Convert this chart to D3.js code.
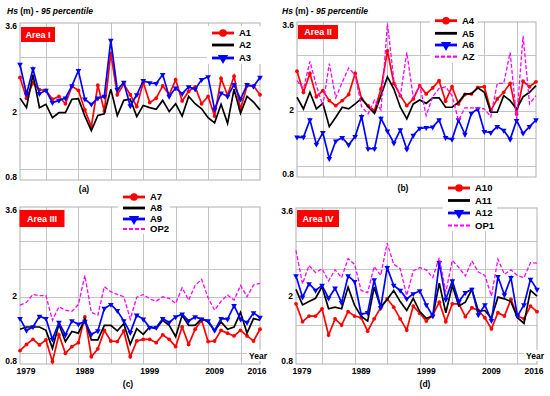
<!DOCTYPE html>
<html>
<head>
<meta charset="utf-8">
<script src="https://cdn.jsdelivr.net/npm/d3@7"></script>
<style>
  body { margin: 0; background: #fff; }
  svg { font-family: Arial, "Liberation Sans", sans-serif; }
</style>
</head>
<body>
<div id="chart"></div>
<script>
// years 1979 - 2016
const years = d3.range(1979, 2017);
const yTicks = [0.8, 2, 3.6];
const yGrid = [1, 1.5, 2, 2.5, 3];
const xGrid = [1983, 1988, 1993, 1998, 2003, 2008, 2013];
const xLabels = [1979, 1989, 1999, 2009, 2016];

// Area I
const A1 = [2.63, 2.26, 2.53, 2.41, 2.40, 2.24, 2.29, 2.16, 2.47, 2.40, 2.05, 1.75, 2.49, 2.03, 3.06, 2.32, 2.51, 2.32, 2.11, 2.54, 2.18, 2.26, 2.48, 2.32, 2.59, 2.21, 2.38, 2.46, 2.16, 2.29, 1.94, 2.61, 2.31, 2.65, 2.06, 2.48, 2.48, 2.32];
const A2 = [2.26, 2.09, 2.68, 2.09, 2.15, 1.91, 2.00, 2.00, 2.24, 2.25, 1.94, 1.68, 1.95, 1.98, 2.42, 1.95, 2.22, 2.24, 1.93, 2.13, 2.09, 2.06, 2.22, 2.02, 2.16, 1.94, 2.29, 2.16, 2.07, 1.91, 1.82, 2.15, 1.81, 2.42, 1.99, 2.29, 2.19, 2.05];
const A3 = [2.86, 2.33, 2.78, 2.34, 2.40, 2.18, 2.22, 2.26, 2.48, 2.75, 2.24, 2.15, 2.26, 2.29, 3.29, 2.41, 2.54, 2.12, 2.32, 2.57, 2.53, 2.52, 2.68, 2.29, 2.44, 2.34, 2.46, 2.42, 2.59, 2.64, 2.06, 2.35, 2.29, 2.50, 2.24, 2.50, 2.47, 2.63];
// Area II
const A4 = [2.71, 2.33, 2.67, 2.25, 2.36, 2.18, 2.09, 2.18, 2.29, 2.67, 2.21, 2.09, 2.00, 2.39, 3.08, 2.49, 2.27, 2.09, 2.21, 2.45, 2.30, 2.41, 2.54, 2.17, 2.43, 2.12, 2.29, 2.30, 2.42, 2.43, 2.00, 2.21, 2.33, 2.49, 1.94, 2.53, 2.43, 2.52];
const A5 = [2.24, 2.03, 2.33, 2.03, 2.13, 1.71, 1.88, 2.06, 2.03, 2.12, 2.22, 2.07, 1.95, 2.27, 2.61, 2.39, 2.06, 1.85, 2.12, 2.19, 2.13, 2.23, 2.23, 2.06, 2.06, 2.15, 2.30, 2.30, 2.41, 2.33, 1.97, 1.97, 2.27, 2.18, 2.03, 2.25, 2.33, 2.45];
const A6 = [1.52, 1.52, 1.83, 1.39, 1.60, 1.13, 1.45, 1.51, 1.38, 1.53, 1.89, 1.31, 1.31, 1.86, 1.63, 1.41, 1.65, 1.30, 1.55, 1.68, 1.69, 1.70, 1.83, 1.51, 1.48, 1.83, 1.57, 1.95, 2.03, 1.62, 1.60, 1.71, 1.64, 1.48, 1.82, 1.59, 1.71, 1.83];
const AZ = [2.54, 2.39, 2.89, 2.45, 2.09, 2.85, 2.23, 2.51, 2.77, 2.64, 2.07, 1.94, 2.19, 2.01, 3.57, 2.55, 2.27, 3.05, 2.24, 2.45, 1.91, 2.25, 2.40, 2.43, 2.27, 1.82, 2.05, 2.05, 2.05, 2.03, 1.89, 2.49, 2.49, 3.05, 1.85, 3.35, 2.12, 2.27];
// Area III
const A7 = [1.04, 1.15, 1.24, 1.14, 1.23, 0.84, 1.32, 0.99, 1.11, 1.18, 1.64, 0.93, 1.07, 1.40, 1.21, 1.20, 1.39, 0.93, 1.21, 1.24, 1.24, 1.18, 1.32, 1.24, 1.11, 1.46, 1.15, 1.42, 1.58, 1.20, 1.21, 1.40, 1.35, 1.30, 1.40, 1.30, 1.21, 1.42];
const A8 = [1.42, 1.46, 1.46, 1.46, 1.40, 1.08, 1.51, 1.20, 1.38, 1.35, 1.60, 1.23, 1.23, 1.49, 1.49, 1.39, 1.52, 1.15, 1.43, 1.33, 1.46, 1.43, 1.58, 1.49, 1.29, 1.67, 1.49, 1.49, 1.61, 1.55, 1.39, 1.55, 1.42, 1.46, 1.72, 1.35, 1.61, 1.58];
const A9 = [1.61, 1.40, 1.46, 1.65, 1.61, 1.24, 1.54, 1.32, 1.57, 1.51, 1.56, 1.33, 1.39, 1.79, 1.86, 1.75, 1.57, 1.36, 1.67, 1.60, 1.45, 1.45, 1.61, 1.54, 1.64, 1.69, 1.57, 1.64, 1.60, 1.57, 1.40, 1.61, 1.60, 1.84, 1.60, 1.54, 1.71, 1.63];
const OP2 = [1.85, 1.90, 2.04, 2.02, 2.02, 1.58, 1.82, 1.76, 1.74, 1.86, 2.38, 1.72, 1.67, 2.18, 2.09, 2.04, 2.00, 1.60, 1.99, 2.04, 1.96, 1.92, 2.00, 1.97, 1.88, 2.16, 1.94, 2.20, 2.31, 1.98, 1.76, 1.92, 2.03, 1.94, 2.20, 2.00, 2.21, 2.24];
// Area IV
const A10 = [1.88, 1.56, 1.66, 1.66, 1.79, 1.32, 1.61, 1.50, 1.74, 1.66, 1.63, 1.39, 1.61, 1.81, 1.97, 1.82, 1.61, 1.41, 1.84, 1.71, 1.57, 1.68, 1.91, 1.56, 1.88, 1.88, 1.65, 1.81, 1.76, 1.63, 1.43, 1.72, 1.66, 1.96, 1.66, 1.61, 1.84, 1.74];
const A11 = [2.14, 1.86, 1.92, 1.98, 2.19, 1.79, 1.82, 1.79, 2.18, 1.85, 1.66, 1.57, 2.18, 1.82, 1.96, 2.12, 1.92, 1.76, 1.98, 1.74, 1.62, 1.66, 2.25, 1.72, 2.21, 1.84, 1.91, 2.14, 1.75, 1.76, 1.62, 2.00, 1.97, 1.92, 1.63, 1.53, 2.12, 2.02];
const A12 = [2.38, 2.00, 2.24, 2.12, 2.21, 1.98, 2.16, 1.90, 2.38, 2.28, 1.69, 1.72, 2.31, 1.81, 2.53, 2.21, 2.12, 1.97, 2.06, 2.11, 1.86, 1.66, 2.62, 1.96, 2.29, 1.92, 2.08, 2.14, 1.68, 1.86, 1.58, 2.37, 2.04, 2.35, 1.66, 1.86, 2.32, 2.14];
const OP1 = [2.84, 2.24, 2.57, 2.44, 2.51, 2.29, 2.49, 2.35, 2.69, 2.59, 2.12, 2.08, 2.55, 2.39, 2.97, 2.59, 2.51, 2.03, 2.47, 2.53, 2.49, 2.35, 2.71, 2.09, 2.66, 2.53, 2.38, 2.65, 2.45, 2.39, 2.02, 2.68, 2.41, 2.49, 2.39, 2.35, 2.62, 2.61];

const RED = '#ff0000', BLUE = '#0000ff', MAG = '#ff00ff', BLACK = '#000000';

function red (name, values) { return { name, values, color: RED, marker: 'circle' }; }
function black (name, values) { return { name, values, color: BLACK }; }
function blue (name, values) { return { name, values, color: BLUE, marker: 'triangle' }; }
function dashed (name, values) { return { name, values, color: MAG, dash: '4,2' }; }

const panels = [
    {
        area: 'Area I', tag: '(a)', x: [20, 260], y: [23, 180], title: [7, 14],
        areaBox: [21, 27, 34, 15], tagPos: [84, 192],
        legend: { x: 212, ys: [33, 45, 58], box: [207, 26, 54, 38] },
        series: [red('A1', A1), black('A2', A2), blue('A3', A3)]
    },
    {
        area: 'Area II', tag: '(b)', x: [297, 536], y: [22, 177], title: [282, 14],
        areaBox: [298, 25, 40, 14], tagPos: [403, 191],
        legend: { x: 435, ys: [20.7, 33.3, 45, 56.7], box: [430, 14, 48, 49] },
        series: [red('A4', A4), black('A5', A5), blue('A6', A6), dashed('AZ', AZ)]
    },
    {
        area: 'Area III', tag: '(c)', x: [20, 260], y: [207, 364], years: true,
        areaBox: [19.5, 210, 45, 17], tagPos: [128, 387],
        legend: { x: 123, ys: [197, 208, 219, 229], box: [118, 189, 52, 45] },
        series: [red('A7', A7), black('A8', A8), blue('A9', A9), dashed('OP2', OP2)]
    },
    {
        area: 'Area IV', tag: '(d)', x: [296, 537], y: [208, 364], years: true,
        areaBox: [297, 210, 42, 17], tagPos: [425, 387],
        legend: { x: 448, ys: [188, 200.5, 213, 225.5], box: [443, 181, 54, 50] },
        series: [red('A10', A10), black('A11', A11), blue('A12', A12), dashed('OP1', OP1)]
    }
];

const svg = d3.select('#chart').append('svg')
    .attr('width', 550)
    .attr('height', 396);

function addMarker (g, s, cx, cy, big) {
    if (s.marker === 'circle') {
        g.append('circle')
            .attr('cx', cx).attr('cy', cy)
            .attr('r', big ? 3.8 : 1.9)
            .style('fill', s.color);
    } else if (s.marker === 'triangle') {
        g.append('path')
            .attr('d', d3.symbol().type(d3.symbolTriangle).size(big ? 46 : 14)())
            .attr('transform', 'translate(' + cx + ',' + cy + ') rotate(180)')
            .style('fill', s.color);
    }
}

function drawPanel (p) {
    const x = d3.scaleLinear().domain([1979, 2016]).range(p.x);
    const y = d3.scaleLinear().domain([0.8, 3.6]).range([p.y[1], p.y[0]]);
    const g = svg.append('g');

    // 网格
    g.selectAll('line.hgrid')
        .data(yGrid)
        .enter()
        .append('line')
        .attr('class', 'hgrid')
        .attr('x1', p.x[0]).attr('x2', p.x[1])
        .attr('y1', d => Math.round(y(d)) + 0.5)
        .attr('y2', d => Math.round(y(d)) + 0.5)
        .style('stroke', '#c4c4c4');
    g.selectAll('line.vgrid')
        .data(xGrid)
        .enter()
        .append('line')
        .attr('class', 'vgrid')
        .attr('y1', p.y[0]).attr('y2', p.y[1])
        .attr('x1', d => Math.round(x(d)) + 0.5)
        .attr('x2', d => Math.round(x(d)) + 0.5)
        .style('stroke', '#c4c4c4');
    g.append('rect')
        .attr('x', p.x[0]).attr('y', p.y[0])
        .attr('width', p.x[1] - p.x[0])
        .attr('height', p.y[1] - p.y[0])
        .style('fill', 'none')
        .style('stroke', '#b0b0b0');

    // y labels
    const yShift = { 0.8: -3, 2: -1, 3.6: 3 };
    g.selectAll('text.ytick')
        .data(yTicks)
        .enter()
        .append('text')
        .attr('x', p.x[0] - 3)
        .attr('y', d => y(d) + yShift[d] + 3)
        .attr('text-anchor', 'end')
        .style('font-size', '8.5px')
        .style('font-weight', 'bold')
        .text(d => d);

    // x labels (bottom row)
    if (p.years) {
        g.selectAll('text.xtick')
            .data(xLabels)
            .enter()
            .append('text')
            .attr('x', d => x(d) + (d === 1979 ? 6 : d === 2016 ? -3 : 0))
            .attr('y', p.y[1] + 10)
            .attr('text-anchor', 'middle')
            .style('font-size', '8.5px')
            .style('font-weight', 'bold')
            .text(d => d);
        g.append('rect')
            .attr('x', p.x[1] - 13).attr('y', p.y[1] - 14)
            .attr('width', 22).attr('height', 11)
            .style('fill', '#fff');
        g.append('text')
            .attr('x', p.x[1] - 2).attr('y', p.y[1] - 5)
            .attr('text-anchor', 'middle')
            .style('font-size', '8.5px')
            .style('font-weight', 'bold')
            .text('Year');
    }

    // 线条
    const line = d3.line()
        .x((d, i) => x(years[i]))
        .y(d => y(d));
    p.series.forEach((s) => {
        g.append('path')
            .attr('d', line(s.values))
            .style('fill', 'none')
            .style('stroke', s.color)
            .style('stroke-width', s.dash ? 1.3 : 1.7)
            .style('stroke-dasharray', s.dash || null);
        if (s.marker) {
            s.values.forEach((v, i) => addMarker(g, s, x(years[i]), y(v), false));
        }
    });

    // area label
    g.append('rect')
        .attr('x', p.areaBox[0]).attr('y', p.areaBox[1])
        .attr('width', p.areaBox[2]).attr('height', p.areaBox[3])
        .style('fill', RED);
    g.append('text')
        .attr('x', p.areaBox[0] + p.areaBox[2] / 2)
        .attr('y', p.areaBox[1] + p.areaBox[3] / 2 + 3.2)
        .attr('text-anchor', 'middle')
        .style('fill', '#fff')
        .style('font-size', '9px')
        .style('font-weight', 'bold')
        .text(p.area);

    // 图例
    const lg = p.legend;
    g.append('rect')
        .attr('x', lg.box[0]).attr('y', lg.box[1])
        .attr('width', lg.box[2]).attr('height', lg.box[3])
        .style('fill', '#fff');
    p.series.forEach((s, i) => {
        const ly = lg.ys[i];
        g.append('line')
            .attr('x1', lg.x).attr('x2', lg.x + 22)
            .attr('y1', ly).attr('y2', ly)
            .style('stroke', s.color)
            .style('stroke-width', s.dash ? 2.2 : 2.8)
            .style('stroke-dasharray', s.dash || null);
        addMarker(g, s, lg.x + 11, ly, true);
        g.append('text')
            .attr('x', lg.x + 27).attr('y', ly + 3.4)
            .style('font-size', '9.5px')
            .style('font-weight', 'bold')
            .text(s.name);
    });

    // panel tag
    g.append('text')
        .attr('x', p.tagPos[0]).attr('y', p.tagPos[1])
        .attr('text-anchor', 'middle')
        .style('font-size', '8.5px')
        .style('font-weight', 'bold')
        .text(p.tag);

    // title
    if (p.title) {
        const t = g.append('text')
            .attr('x', p.title[0]).attr('y', p.title[1])
            .style('font-size', '8.5px')
            .style('font-weight', 'bold');
        t.append('tspan').style('font-style', 'italic').text('Hs');
        t.append('tspan').text(' (m) ');
        t.append('tspan').style('font-style', 'italic').text('- 95 percentile');
    }
}

panels.forEach(drawPanel);
</script>
</body>
</html>
